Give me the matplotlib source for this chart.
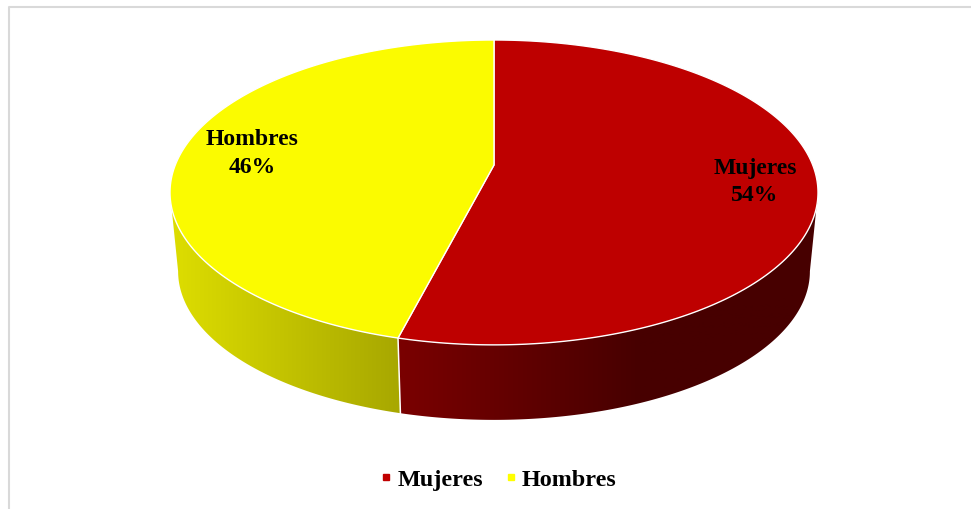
import numpy as np
import matplotlib
matplotlib.use("Agg")
import matplotlib.pyplot as plt
from matplotlib.colors import to_rgb
from matplotlib.lines import Line2D
from matplotlib.patches import Polygon

plt.rcParams['font.family'] = ['Liberation Serif', 'DejaVu Serif']

categories = ["Mujeres", "Hombres"]
values = [54, 46]
top_colours = ["#BE0000", "#FBFB00"]
legend_colours = ["#C00000", "#FFFF00"]
# side shading, left end then right end
side_colours = [("#7A0000", "#470000"), ("#DCDC00", "#A8A800")]
shade_x = [(400, 640), (178, 398)]
label_pos = [(755, 182), (252, 153.5)]

# perspective of the pie disc, in pixels
cx = 494
top_y = 166
low_y = 245.5
low_scale = 0.975
a = 318.7
b = 147.5
k = 0.18


def rim(t, y0=top_y, s=1.0):
    # t in degrees, clockwise from 12 o'clock
    u = np.sin(np.radians(t))
    v = np.cos(np.radians(t))
    d = 1 + k * v
    return cx + s * a * u / d, y0 + s * b * (-v) / d


fig = plt.figure(figsize=(9.71, 5.10), dpi=100, facecolor="white")
ax = fig.add_axes([0, 0, 1, 1])
ax.axis("off")

# frame, only left and top show
ax.plot([8.5, 8.5, 971], [510, 7.5, 7.5], color="#D9D9D9", lw=1.5, zorder=1)

edges = np.concatenate([[0], np.cumsum(values) / np.sum(values) * 360])
vis_start = np.degrees(np.arccos(-k))
vis_end = 360 - vis_start

# side walls: horizontal gradient clipped to the wall outline
for i in range(len(values)):
    t0 = max(edges[i], vis_start)
    t1 = min(edges[i + 1], vis_end)
    ts = np.linspace(t0, t1, 300)
    xt, yt = rim(ts)
    xl, yl = rim(ts[::-1], low_y, low_scale)
    wall = Polygon(np.c_[np.r_[xt, xl], np.r_[yt, yl]], closed=True, transform=ax.transData,
                   facecolor="none", edgecolor="none")
    ax.add_patch(wall)

    x_grid = np.arange(np.r_[xt, xl].min() - 2, np.r_[xt, xl].max() + 3)
    f = np.clip((x_grid - shade_x[i][0]) / (shade_x[i][1] - shade_x[i][0]), 0, 1)
    c0 = np.array(to_rgb(side_colours[i][0]))
    c1 = np.array(to_rgb(side_colours[i][1]))
    grad = (c0 + (c1 - c0) * f[:, None])[None, :, :]
    im = ax.imshow(grad, extent=[x_grid[0], x_grid[-1], 430, 180], aspect="auto",
                   interpolation="bilinear", zorder=2)
    im.set_clip_path(wall)

# white seam between the two side walls
xs, ys = rim(edges[1])
xe, ye = rim(edges[1], low_y, low_scale)
ax.plot([xs, xe], [ys, ye], color="white", lw=1.1, zorder=3)

# top of the pie
for i in range(len(values)):
    ts = np.linspace(edges[i], edges[i + 1], 400)
    xr, yr = rim(ts)
    ax.fill(np.r_[cx, xr], np.r_[top_y, yr], facecolor=top_colours[i],
            edgecolor="white", lw=1.0, joinstyle="round", zorder=4)

for i, name in enumerate(categories):
    ax.text(label_pos[i][0], label_pos[i][1], f"{name}\n{values[i]}%", ha="center", va="center",
            fontsize=17, fontweight="bold", color="black", linespacing=1.4, zorder=5)

ax.set_xlim(0, 971)
ax.set_ylim(510, 0)

handles = [Line2D([], [], ls="none", marker="s", ms=5, color=c) for c in legend_colours]
ax.legend(handles, categories, loc="center", bbox_to_anchor=(498.25 / 971, 1 - 480 / 510), ncol=2,
          frameon=False, handlelength=0.5, handletextpad=0.22, columnspacing=0.90,
          prop={"size": 17.4, "weight": "bold"})

fig.savefig("out.png", dpi=100, facecolor="white")
